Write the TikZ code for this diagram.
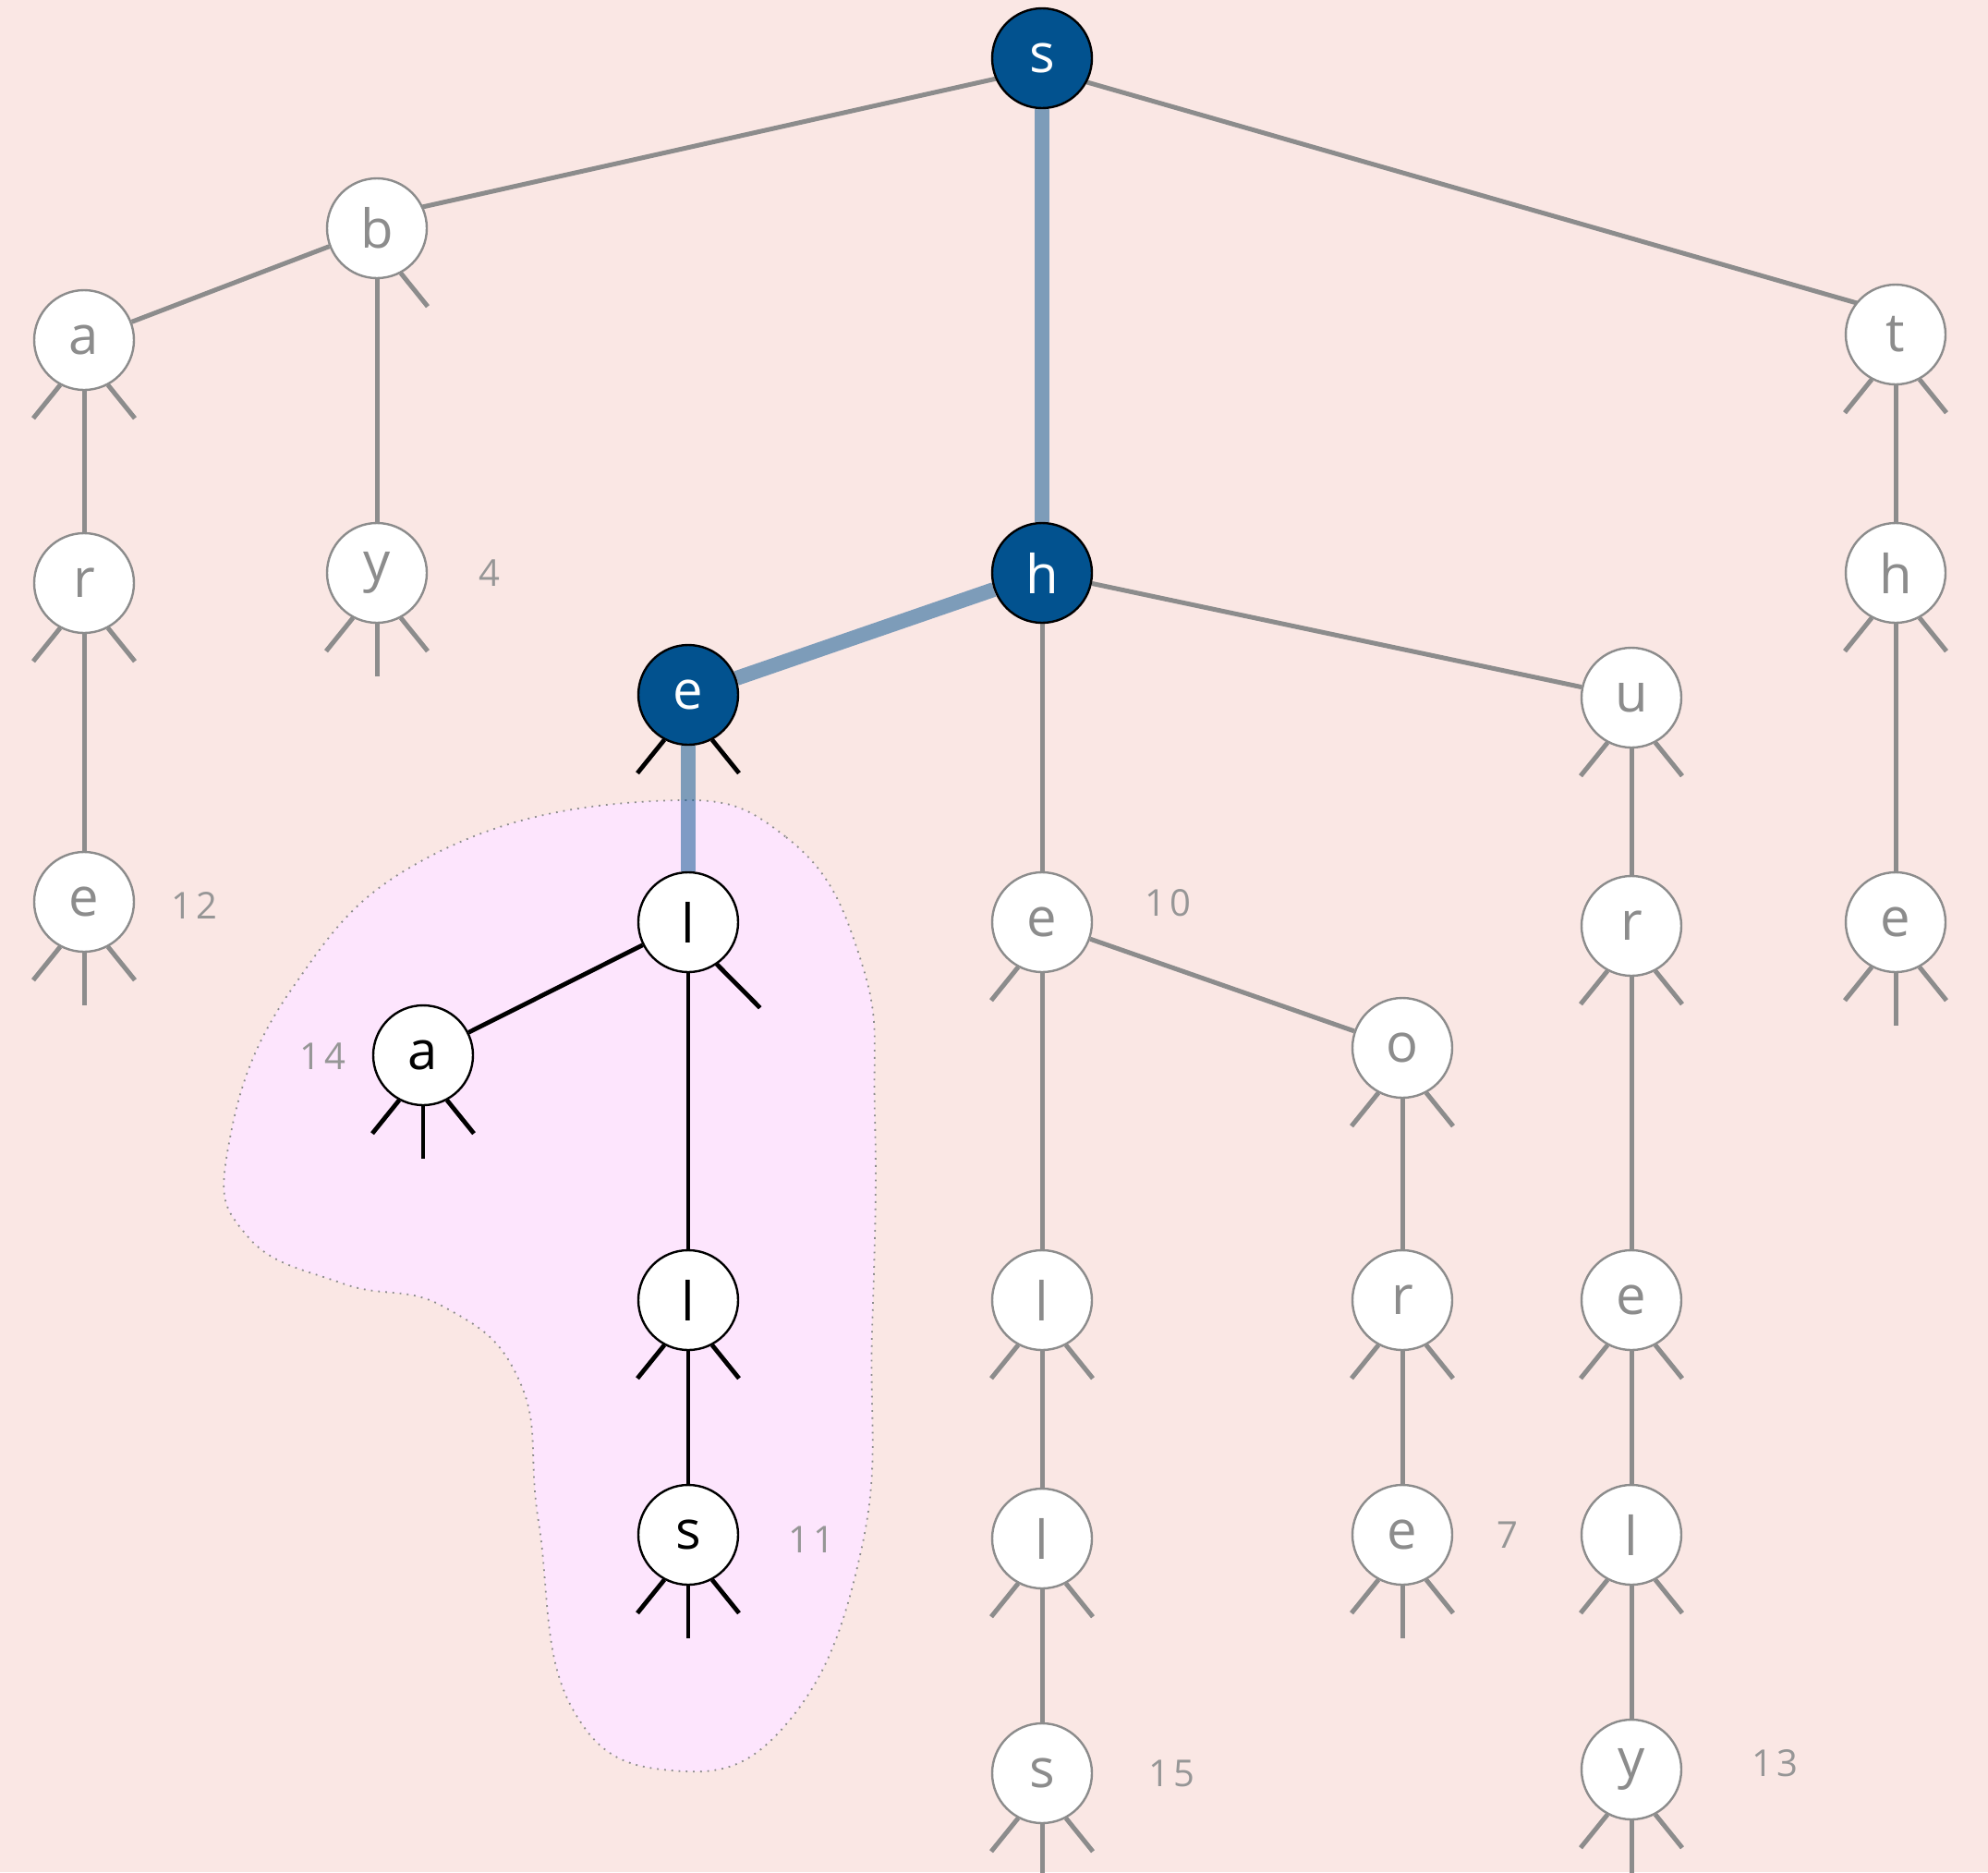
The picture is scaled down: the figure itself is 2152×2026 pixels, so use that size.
\documentclass[tikz,border=0pt]{standalone}
\usepackage{fontspec}
\setmainfont{Open Sans}
\usetikzlibrary{calc}
\definecolor{bgc}{RGB}{250,231,228}
\definecolor{blobfill}{RGB}{253,229,253}
\definecolor{dblue}{RGB}{2,82,143}
\definecolor{egray}{RGB}{140,140,140}
\definecolor{labgray}{RGB}{150,150,150}
\pgfdeclarelayer{back}
\pgfdeclarelayer{edges}
\pgfsetlayers{back,edges,main}
\newcommand\stL[2]{\draw[#2] ($(#1)+(118:55)$) -- ($(#1)+(123:101)$);}
\newcommand\stC[2]{\draw[#2] ($(#1)+(90:55)$) -- ($(#1)+(90:112)$);}
\newcommand\stR[2]{\draw[#2] ($(#1)+(62:55)$) -- ($(#1)+(57:101)$);}
\begin{document}
\begin{tikzpicture}[x=0.5pt,y=-0.5pt,
  nd/.style={circle,minimum size=54pt,inner sep=0pt,line width=1.2pt,font=\fontsize{29}{35}\selectfont},
  gnode/.style={nd,draw=egray,fill=white,text=egray},
  bnode/.style={nd,draw=black,fill=dblue,text=white},
  knode/.style={nd,draw=black,fill=white,text=black},
  gedge/.style={draw=egray,line width=2.5pt},
  kedge/.style={draw=black,line width=2.4pt},
  bedge/.style={draw=dblue,draw opacity=0.5,line width=8pt},
  gstub/.style={draw=egray,line width=2.5pt},
  kstub/.style={draw=black,line width=2.4pt},
  lab/.style={text=labgray,font=\fontsize{20}{24}\selectfont\addfontfeatures{LetterSpace=10}},
  blob/.style={fill=blobfill,draw=egray,line width=0.9pt,dash pattern=on 0.9pt off 3pt}
]
\useasboundingbox (0,0) rectangle (2152,2026);

% nodes
\node[bnode] (s0) at (1128,63) {s};
\node[gnode] (b) at (408,247) {b};
\node[gnode] (a1) at (91,368) {a};
\node[gnode] (r1) at (91,631) {r};
\node[gnode] (e1) at (91,976) {e};
\node[gnode] (y1) at (408,620) {y};
\node[bnode] (h0) at (1128,620) {h};
\node[bnode] (e0) at (745,752) {e};
\node[gnode] (t) at (2052,362) {t};
\node[gnode] (h2) at (2052,620) {h};
\node[gnode] (e2) at (2052,998) {e};
\node[gnode] (u) at (1766,755) {u};
\node[gnode] (r3) at (1766,1002) {r};
\node[gnode] (e3) at (1766,1407) {e};
\node[gnode] (l3) at (1766,1661) {l};
\node[gnode] (y3) at (1766,1915) {y};
\node[gnode] (e4) at (1128,998) {e};
\node[gnode] (o) at (1518,1134) {o};
\node[gnode] (r4) at (1518,1407) {r};
\node[gnode] (e5) at (1518,1661) {e};
\node[gnode] (l4) at (1128,1407) {l};
\node[gnode] (l5) at (1128,1665) {l};
\node[gnode] (s5) at (1128,1919) {s};
\node[knode] (lb1) at (745,998) {l};
\node[knode] (ab) at (458,1142) {a};
\node[knode] (lb2) at (745,1407) {l};
\node[knode] (sb) at (745,1661) {s};

% labels
\node[lab] (n12) at ($(e1)+(119,4)$) {12};
\node[lab] (n4) at ($(y1)+(122,0)$) {4};
\node[lab] (n10) at ($(e4)+(136,-21)$) {10};
\node[lab] (n7) at ($(e5)+(114,0)$) {7};
\node[lab] (n15) at ($(s5)+(140,0)$) {15};
\node[lab] (n13) at ($(y3)+(155,-7)$) {13};
\node[lab] (n11) at ($(sb)+(133,5)$) {11};
\node[lab] (n14) at ($(ab)+(-109,1)$) {14};
\node[lab] (n8) at ($(e2)+(110,0)$) {8};

\begin{pgfonlayer}{back}
\fill[bgc] (0,0) rectangle (2152,2026);
\path[blob] plot[smooth cycle,tension=0.75] coordinates {
 (707,867) (851,906) (933,1043) (947,1208) (944,1441) (933,1674)
 (851,1866) (727,1916) (618,1846) (583,1647) (563,1496) (480,1414)
 (371,1389) (268,1338) (247,1242) (316,1070) (467,926)};
\end{pgfonlayer}

\begin{pgfonlayer}{edges}
\draw[gedge] ($(s0)+(0,11)$) -- ($(b)+(0,-12)$);
\draw[gedge] ($(s0)+(0,12)$) -- ($(t)+(0,-22)$);
\foreach \p/\q in {b/a1,b/y1,a1/r1,r1/e1,h0/e4,h0/u,t/h2,h2/e2,
  e4/l4,e4/o,l4/l5,l5/s5,o/r4,r4/e5,u/r3,r3/e3,e3/l3,l3/y3}
  \draw[gedge] (\p) -- (\q);
\foreach \p/\q in {s0/h0,h0/e0,e0/lb1}
  \draw[bedge] (\p) -- (\q);
\foreach \p/\q in {lb1/ab,lb1/lb2,lb2/sb}
  \draw[kedge] (\p) -- (\q);
% stubs
\stR{b}{gstub}
\foreach \n in {a1,r1,o,r4,l4,l5,u,r3,e3,l3,t,h2}{\stL{\n}{gstub}\stR{\n}{gstub}}
\foreach \n in {e1,y1,e5,s5,y3,e2}{\stL{\n}{gstub}\stC{\n}{gstub}\stR{\n}{gstub}}
\stL{e4}{gstub}
\stL{e0}{kstub}\stR{e0}{kstub}
\draw[kstub] ($(lb1)+(56:54)$) -- ($(lb1)+(50:121)$);
\foreach \n in {ab,sb}{\stL{\n}{kstub}\stC{\n}{kstub}\stR{\n}{kstub}}
\stL{lb2}{kstub}\stR{lb2}{kstub}
\end{pgfonlayer}
\end{tikzpicture}
\end{document}
